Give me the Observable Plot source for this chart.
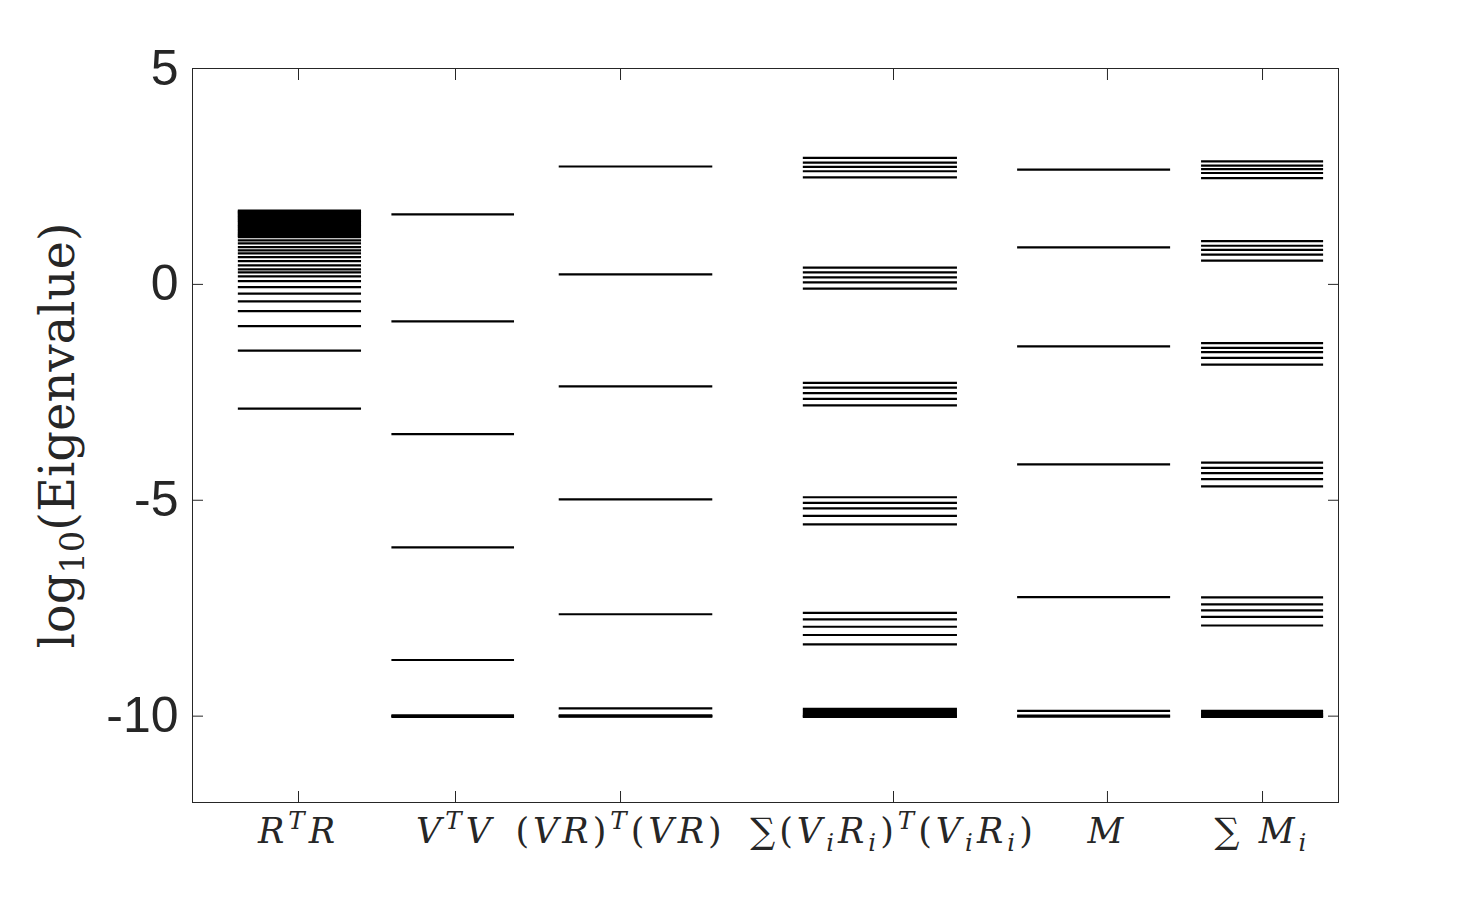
<!DOCTYPE html>
<html>
<head>
<meta charset="utf-8">
<script src="https://cdn.jsdelivr.net/npm/d3@7"></script>
<script src="https://cdn.jsdelivr.net/npm/@observablehq/plot@0.6"></script>
<style>
  html, body { margin: 0; padding: 0; background: #fff; }
  #chart { width: 1480px; height: 903px; }
</style>
</head>
<body>
<div id="chart"></div>
<script>
// ---- data ----
const categories = ["RTR", "VTV", "VRTVR", "SumViRi", "M", "SumMi"];
const catTick  = [9.25, 22.95, 37.35, 61.17, 79.84, 93.37];
const catStart = [4.0, 17.4, 32.0, 53.3, 72.0, 88.05];
const catEnd   = [14.75, 28.1, 45.4, 66.75, 85.35, 98.7];

const rtr = [1.71, 1.69, 1.67, 1.65, 1.62, 1.60, 1.57, 1.55, 1.52, 1.50, 1.47, 1.44,
             1.41, 1.38, 1.35, 1.32, 1.29, 1.26, 1.23, 1.20, 1.17, 1.14, 1.12,
             1.095, 1.019, 0.949, 0.863, 0.787, 0.718, 0.632, 0.539, 0.44, 0.347,
             0.278, 0.185, 0.076, -0.062, -0.215, -0.394, -0.618, -0.965, -1.535, -2.877];
const vtv = [1.62, -0.856, -3.47, -6.09, -8.70, -9.98, -10.0, -10.02];
const vrtvr = [2.73, 0.23, -2.36, -4.98, -7.64, -9.82, -9.98, -10.0, -10.01];
const sumViRi = [2.93, 2.82, 2.72, 2.62, 2.48,
                 0.386, 0.278, 0.162, 0.046, -0.10,
                 -2.28, -2.39, -2.52, -2.65, -2.80,
                 -4.93, -5.06, -5.19, -5.36, -5.56,
                 -7.61, -7.76, -7.93, -8.12, -8.34,
                 -9.83, -9.88, -9.93, -9.97, -10.0, -10.02];
const mVals = [2.66, 0.856, -1.435, -4.17, -7.245, -9.88, -9.99, -10.01];
const sumMi = [2.85, 2.75, 2.67, 2.58, 2.46,
               1.00, 0.895, 0.80, 0.69, 0.55,
               -1.36, -1.47, -1.57, -1.70, -1.86,
               -4.13, -4.25, -4.37, -4.51, -4.68,
               -7.25, -7.41, -7.55, -7.70, -7.90,
               -9.88, -9.92, -9.95, -9.98, -10.0, -10.02];
const seriesValues = [rtr, vtv, vrtvr, sumViRi, mVals, sumMi];

const yTicks = [-10, -5, 0, 5];
const yLabel = "log10(Eigenvalue)";

// rich label parts: "" italic, "n" upright, "sup", "sub"
const labelParts = {
  RTR: [["R",""],["T","sup"],["R",""]],
  VTV: [["V",""],["T","sup"],["V",""]],
  VRTVR: [["(","n"],["VR",""],[")","n"],["T","sup"],["(","n"],["VR",""],[")","n"]],
  SumViRi: [["∑","n"],["(","n"],["V",""],["i","sub"],["R",""],["i","sub"],[")","n"],["T","sup"],
            ["(","n"],["V",""],["i","sub"],["R",""],["i","sub"],[")","n"]],
  M: [["M",""]],
  SumMi: [["∑ ","n"],["M",""],["i","sub"]]
};
const yLabelParts = [["log","n"],["10","sub"],["(Eigenvalue)","n"]];

// ---- table ----
const table = categories.flatMap((c, i) => seriesValues[i].map(v => ({cat: c, i, v})));
const tickLabel = new Map(catTick.map((t, i) => [t, categories[i]]));

const axisColor = "#262626";
const serif = "'DejaVu Serif', 'Liberation Serif', serif";

const plot = Plot.plot({
  width: 1480,
  height: 903,
  marginLeft: 192,
  marginRight: 142,
  marginTop: 68,
  marginBottom: 101,
  style: {background: "#fff", color: axisColor},
  x: {domain: [0, 100]},
  y: {domain: [-12, 5]},
  marks: [
    Plot.frame({stroke: axisColor, strokeWidth: 1}),
    Plot.ruleY(table, {y: "v", x1: d => catStart[d.i], x2: d => catEnd[d.i], stroke: "#000", strokeWidth: 2.2}),
    // y tick labels
    Plot.axisY({anchor: "left", ticks: yTicks, tickSize: 0, tickPadding: 14, tickFormat: d => String(d),
                fontSize: 50, fontFamily: "'Liberation Sans', Arial, sans-serif", label: null}),
    // inward ticks
    Plot.axisY({anchor: "left", ticks: yTicks, tickSize: 11, dx: 11, tickFormat: () => "", label: null, stroke: axisColor}),
    Plot.axisY({anchor: "right", ticks: yTicks, tickSize: 11, dx: -11, tickFormat: () => "", label: null, stroke: axisColor}),
    Plot.axisX({anchor: "bottom", ticks: catTick, tickSize: 11, dy: -11, tickFormat: () => "", label: null, stroke: axisColor}),
    Plot.axisX({anchor: "top", ticks: catTick, tickSize: 11, dy: 11, tickFormat: () => "", label: null, stroke: axisColor}),
    // x tick labels
    Plot.axisX({anchor: "bottom", ticks: catTick, tickSize: 0, tickPadding: 16, tickFormat: d => tickLabel.get(d),
                fontSize: 35, fontFamily: serif, fontStyle: "italic", label: null}),
    // y label
    Plot.text([yLabel], {text: d => d, frameAnchor: "left", rotate: -90, dx: -134, fontSize: 48,
                         fontFamily: serif, lineAnchor: "middle", textAnchor: "middle", fill: axisColor})
  ]
});

document.getElementById("chart").appendChild(plot);

// ---- rich text post-processing ----
const svgns = "http://www.w3.org/2000/svg";
function rich(el, parts, size, spacing) {
  el.textContent = "";
  if (spacing) el.setAttribute("letter-spacing", spacing);
  let shift = 0;
  for (const [t, k] of parts) {
    const ts = document.createElementNS(svgns, "tspan");
    const target = k === "sup" ? -0.42 * size : k === "sub" ? 0.22 * size : 0;
    ts.setAttribute("dy", target - shift);
    shift = target;
    if (k === "sup" || k === "sub") ts.setAttribute("font-size", 0.7 * size);
    if (k === "n") ts.setAttribute("font-style", "normal");
    ts.textContent = t;
    el.appendChild(ts);
  }
}
plot.querySelectorAll("text").forEach(el => {
  const s = el.textContent;
  if (labelParts[s]) rich(el, labelParts[s], 35, 4);
  else if (s === yLabel) rich(el, yLabelParts, 48, 0);
});
</script>
</body>
</html>
